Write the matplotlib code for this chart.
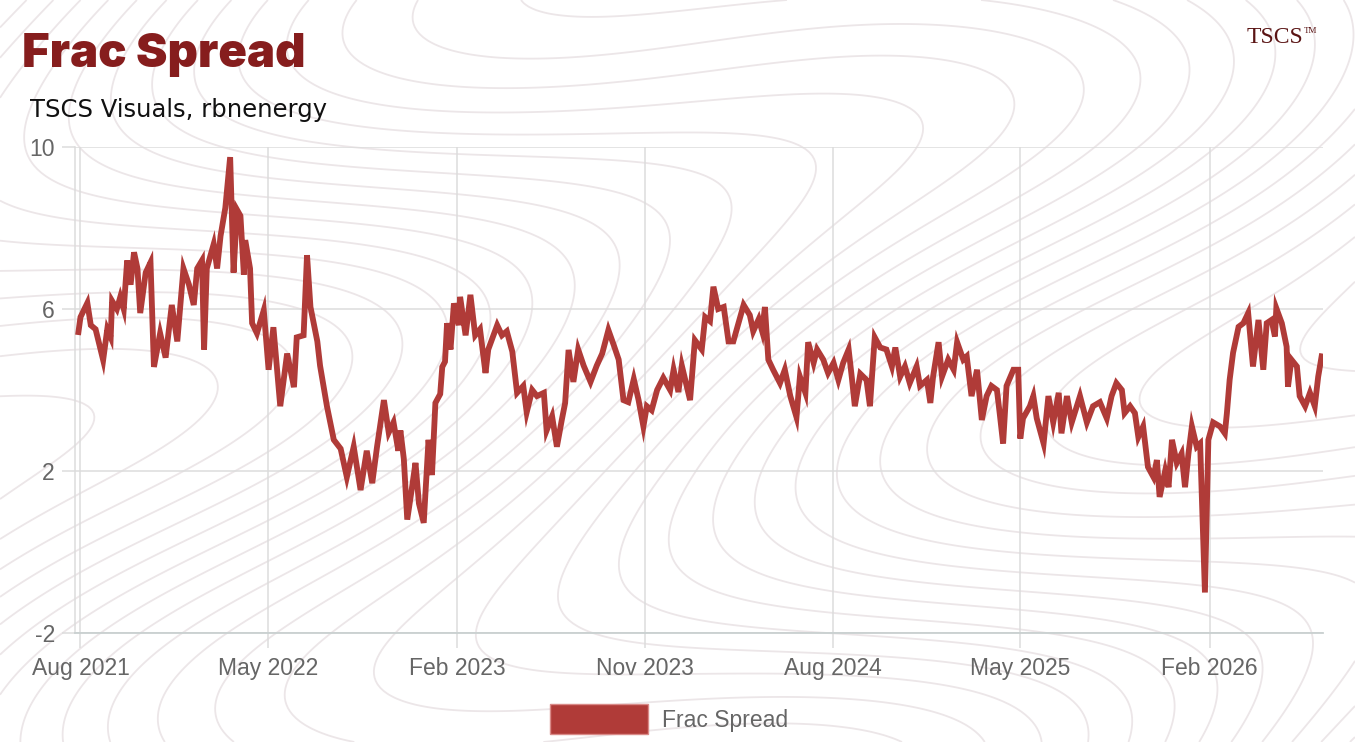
import numpy as np
import pandas as pd
import matplotlib
matplotlib.use("Agg")
import matplotlib.pyplot as plt
import matplotlib.dates as mdates
from matplotlib.patches import Patch

plt.rcParams["axes.unicode_minus"] = False

# days counted from the start of the series
days_2021 = [0, 3, 13, 18, 25, 36, 42, 47, 49, 56,
             61, 66, 71, 76, 81, 86, 90, 98, 105, 110,
             119, 127, 136, 144, 153, 161, 168, 173, 180, 183,
             187, 197, 202, 207, 214, 221, 226, 231, 236, 241,
             243, 250, 253, 260, 270, 277, 284, 294, 304, 314,
             318, 328, 333, 338, 348, 352, 362, 372, 382, 391,
             401, 411, 420, 428, 435, 445, 452, 459, 466]
vals_2021 = [5.43, 5.8, 6.15, 5.6, 5.5, 4.74, 5.5, 5.3, 6.2, 6.0,
             6.3, 6.0, 7.2, 6.6, 7.4, 7.0, 5.9, 6.9, 7.15, 4.57,
             5.4, 4.8, 6.1, 5.2, 7.0, 6.6, 6.1, 7.0, 7.2, 5.0,
             7.0, 7.6, 7.0, 7.8, 8.5, 9.75, 6.9, 8.45, 8.3, 6.85,
             7.7, 7.0, 5.65, 5.4, 5.97, 4.5, 5.55, 3.6, 4.9, 4.07,
             5.3, 5.35, 7.33, 6.05, 5.2, 4.6, 3.6, 2.77, 2.55, 1.85,
             2.6, 1.53, 2.5, 1.7, 2.6, 3.75, 2.95, 3.2, 2.5]

days_2022 = [469, 474, 479, 486, 491, 496, 503, 510, 515, 520,
             527, 530, 534, 537, 542, 547, 554, 556, 564, 571,
             578, 585, 593, 597, 610, 617, 624, 632, 639, 648,
             653, 661, 668, 678, 682, 690, 697, 704, 709, 714,
             721, 728, 736, 746, 755, 763, 772, 780, 787, 794,
             801, 809, 816, 823, 828, 835, 843, 852, 862, 867,
             874, 879, 891, 898, 908, 913, 920, 925, 932, 940,
             947, 954, 964]
vals_2022 = [3.0, 2.3, 0.8, 1.6, 2.2, 1.2, 0.72, 2.77, 1.9, 3.68,
             3.9, 4.57, 4.7, 5.65, 5.0, 6.14, 5.6, 6.3, 5.35, 6.35,
             5.35, 5.5, 4.42, 5.0, 5.6, 5.35, 5.45, 4.95, 3.93, 4.1,
             3.45, 4.0, 3.85, 3.93, 3.0, 3.35, 2.6, 3.25, 3.68, 4.99,
             4.2, 5.0, 4.6, 4.2, 4.6, 4.9, 5.48, 5.1, 4.75, 3.75,
             3.7, 4.27, 3.75, 3.1, 3.6, 3.5, 4.0, 4.3, 4.0, 4.5,
             3.95, 4.6, 3.75, 5.23, 5.0, 5.8, 5.7, 6.55, 6.0, 6.05,
             5.2, 5.2, 5.8]

days_2024 = [969, 978, 983, 991, 996, 1000, 1005, 1012, 1022, 1029,
             1037, 1046, 1051, 1059, 1063, 1071, 1076, 1085, 1092, 1100,
             1107, 1114, 1122, 1127, 1131, 1139, 1148, 1153, 1160, 1168,
             1177, 1185, 1190, 1197, 1204, 1211, 1221, 1226, 1236, 1241,
             1245, 1253, 1258, 1267, 1275, 1280, 1289, 1294, 1301, 1309,
             1316, 1323, 1330, 1338, 1342, 1347, 1352, 1362, 1369]
vals_2024 = [6.1, 5.85, 5.45, 5.75, 5.45, 6.05, 4.75, 4.5, 4.17, 4.5,
             3.85, 3.33, 4.33, 3.93, 5.18, 4.67, 5.0, 4.75, 4.42, 4.67,
             4.25, 4.67, 5.0, 4.25, 3.6, 4.4, 4.25, 3.6, 5.3, 5.05,
             5.0, 4.58, 5.05, 4.33, 4.58, 4.17, 4.58, 4.1, 4.25, 3.68,
             4.33, 5.18, 4.33, 4.75, 4.5, 5.18, 4.75, 4.83, 3.85, 4.5,
             3.26, 3.85, 4.1, 4.0, 3.43, 2.68, 4.1, 4.5, 4.5]

days_2025 = [1372, 1376, 1386, 1391, 1396, 1406, 1413, 1420, 1428, 1432,
             1440, 1447, 1459, 1469, 1478, 1488, 1498, 1505, 1512, 1520,
             1524, 1532, 1539, 1544, 1551, 1558, 1566, 1571, 1575, 1583,
             1588, 1593, 1600, 1607, 1612, 1617, 1622, 1629, 1634, 1641,
             1646, 1653, 1663, 1670, 1673, 1677, 1682, 1690, 1697, 1704,
             1711, 1719, 1726, 1731, 1738, 1743, 1745, 1753, 1760, 1762,
             1767, 1775, 1779, 1787, 1794, 1801, 1806, 1811]
vals_2025 = [2.8, 3.3, 3.6, 3.85, 3.3, 2.68, 3.85, 3.2, 3.93, 2.93,
             3.85, 3.2, 3.85, 3.2, 3.6, 3.7, 3.3, 3.85, 4.17, 4.0,
             3.43, 3.6, 3.43, 2.84, 3.1, 2.1, 1.85, 2.27, 1.36, 2.0,
             1.6, 2.77, 2.2, 2.43, 1.6, 2.43, 3.1, 2.6, 2.68, -1.0,
             2.77, 3.2, 3.1, 2.93, 3.43, 4.25, 4.92, 5.56, 5.65, 5.9,
             4.58, 5.73, 4.5, 5.65, 5.73, 5.32, 6.02, 5.65, 5.07, 4.08,
             4.75, 4.58, 3.85, 3.6, 3.93, 3.6, 4.33, 4.83]

tick_months = ["2021-08-01", "2022-05-01", "2023-02-01", "2023-11-01",
               "2024-08-01", "2025-05-01", "2026-02-01"]
y_ticks = [-2, 2, 6, 10]

days = days_2021 + days_2022 + days_2024 + days_2025
vals = vals_2021 + vals_2022 + vals_2024 + vals_2025
dates = pd.Timestamp("2021-07-29") + pd.to_timedelta(days, unit="D")

W, H = 1355, 742
fig = plt.figure(figsize=(W / 100, H / 100), dpi=100)
fig.patch.set_facecolor("white")

# faint topographic background
bg = fig.add_axes([0, 0, 1, 1], zorder=-5)
gx, gy = np.meshgrid(np.linspace(0, W, 400), np.linspace(0, H, 220))
field = (gx / 160 + 1.4 * np.sin(gy / 95 + gx / 310)
         + 0.9 * np.sin(gx / 210) * np.cos(gy / 130))
bg.contour(gx, gy, field, levels=32, colors="#ece6e8", linewidths=1.3,
           negative_linestyles="solid")
bg.set_xlim(0, W)
bg.set_ylim(H, 0)
bg.axis("off")

ax = fig.add_axes([75 / W, 1 - 633 / H, (1323 - 75) / W, (633 - 147) / H])
ax.set_facecolor("none")

red = "#b03b38"
ax.plot(dates, vals, color=red, lw=4.2, solid_joinstyle="miter", zorder=3)

ax.set_ylim(-2, 10)
ax.set_xlim(pd.Timestamp("2021-07-24"), pd.Timestamp("2026-07-16"))
ax.set_yticks(y_ticks)
ax.set_xticks(pd.to_datetime(tick_months))
ax.xaxis.set_major_formatter(mdates.DateFormatter("%b %Y"))

grid_c = "#dcdcdc"
ax.grid(True, color=grid_c, lw=1.1)
for s in ["top", "right"]:
    ax.spines[s].set_visible(False)
ax.spines["left"].set_color(grid_c)
ax.spines["bottom"].set_color("#c9d0d0")
ax.spines["left"].set_linewidth(1.1)
ax.spines["bottom"].set_linewidth(1.3)
ax.tick_params(axis="x", length=11, width=1.1, color=grid_c, pad=6,
               labelsize=16.5, labelcolor="#666666")
ax.tick_params(axis="y", length=9.5, width=1.1, color=grid_c, pad=5,
               labelsize=16.5, labelcolor="#666666")
for lab in ax.get_xticklabels() + ax.get_yticklabels():
    lab.set_family("Liberation Sans")

fig.text(22 / W, 1 - 67 / H, "Frac Spread", family="Inter", weight="black",
         fontsize=34, color="#861d1d", va="baseline")
fig.text(30 / W, 1 - 117 / H, "TSCS Visuals, rbnenergy", family="DejaVu Sans",
         fontsize=17.5, color="#111111", va="baseline")
fig.text(1303 / W, 1 - 43 / H, "TSCS", family="Liberation Serif",
         fontsize=17, color="#5a1414", va="baseline", ha="right")
fig.text(1304 / W, 1 - 33 / H, "TM", family="Liberation Serif",
         fontsize=6.5, color="#5a1414", va="baseline", ha="left")

handle = Patch(facecolor=red, edgecolor="#d98a88", lw=1)
leg = fig.legend(handles=[handle], labels=["Frac Spread"], loc="center",
                 bbox_to_anchor=(669 / W, 1 - 719 / H), frameon=False,
                 handlelength=4.3, handleheight=1.6, handletextpad=0.6,
                 prop={"family": "Liberation Sans", "size": 16.5})
for t in leg.get_texts():
    t.set_color("#666666")

fig.savefig("out.png", dpi=100)
